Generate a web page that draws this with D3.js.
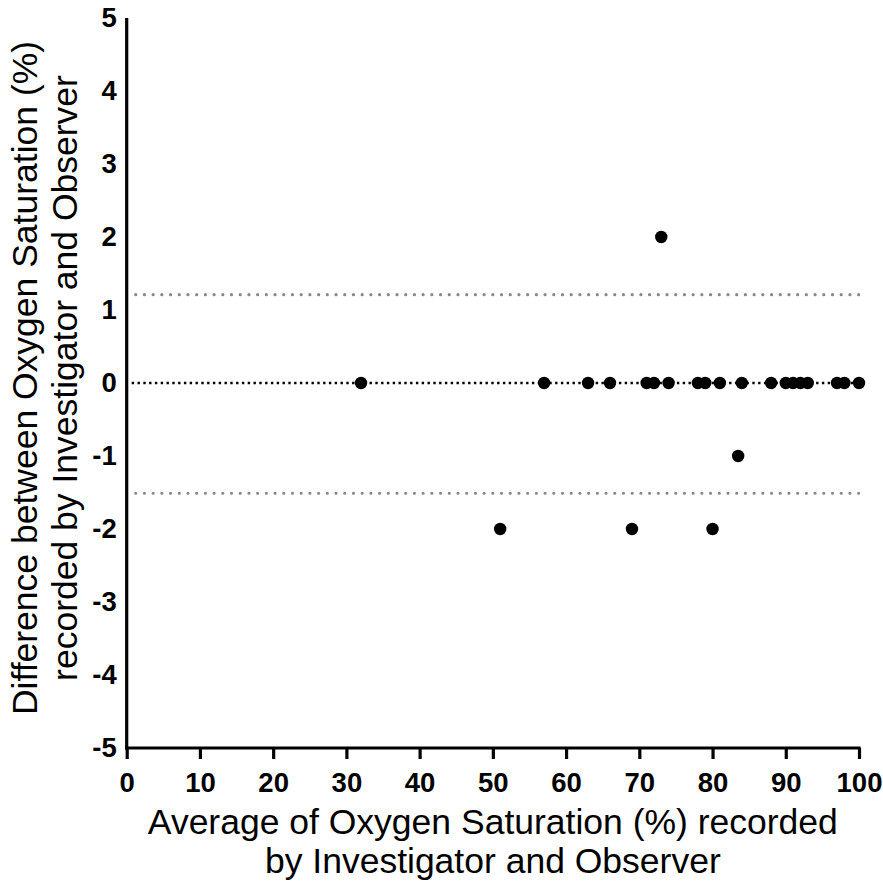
<!DOCTYPE html>
<html>
<head>
<meta charset="utf-8">
<script src="https://cdn.jsdelivr.net/npm/d3@7"></script>
<style>
  body { margin: 0; background: #fff; }
  text { font-family: "Liberation Sans", Arial, sans-serif; }
</style>
</head>
<body>
<script>

// averages (x) and differences (y)
var avgValues = [32, 57, 63, 66, 71, 72, 74, 78, 79, 81, 84, 88, 90, 91, 92, 93, 97, 98, 100,
                 73, 83.5, 51, 69, 80];
var diffValues = [0, 0, 0, 0, 0, 0, 0, 0, 0, 0, 0, 0, 0, 0, 0, 0, 0, 0, 0,
                  2, -1, -2, -2, -2];
var meanDiff = 0;
var limits = [1.21, -1.51];
var xTicks = [0, 10, 20, 30, 40, 50, 60, 70, 80, 90, 100];
var yTicks = [-5, -4, -3, -2, -1, 0, 1, 2, 3, 4, 5];

var width = 883,
    height = 884,
    plotLeft = 126.7,
    plotRight = 859,
    plotTop = 18,
    plotBottom = 748;

var svg = d3.select("body").append("svg")
    .attr("width", width)
    .attr("height", height);

var x = d3.scaleLinear().domain([0, 100]).range([plotLeft, plotRight]);
var y = d3.scaleLinear().domain([-5, 5]).range([plotBottom, plotTop]);

// limits of agreement
svg.selectAll(".limit")
    .data(limits)
    .enter().append("line")
    .attr("class", "limit")
    .attr("x1", x(0) + 9)
    .attr("x2", x(100))
    .attr("y1", function(d) { return y(d); })
    .attr("y2", function(d) { return y(d); })
    .attr("stroke", "#888")
    .attr("stroke-width", 3.2)
    .attr("stroke-linecap", "round")
    .attr("stroke-dasharray", "0.01 8.7");

// mean line
svg.append("line")
    .attr("x1", x(0) + 5)
    .attr("x2", x(100))
    .attr("y1", y(meanDiff))
    .attr("y2", y(meanDiff))
    .attr("stroke", "#000")
    .attr("stroke-width", 2.4)
    .attr("stroke-dasharray", "2.4 3.4");

// points
svg.selectAll(".pt")
    .data(avgValues)
    .enter().append("circle")
    .attr("class", "pt")
    .attr("cx", function(d) { return x(d); })
    .attr("cy", function(d, i) { return y(diffValues[i]); })
    .attr("r", 6.2)
    .attr("fill", "#000");

// axes (plain hyphen for negatives, like the original)
var fmt = function(d) { return String(d); };

var xAxis = svg.append("g")
    .attr("transform", "translate(0," + plotBottom + ")")
    .call(d3.axisBottom(x).tickValues(xTicks).tickFormat(fmt).tickSize(11).tickPadding(13).tickSizeOuter(0));

var yAxis = svg.append("g")
    .attr("transform", "translate(" + plotLeft + ",0)")
    .call(d3.axisLeft(y).tickValues(yTicks).tickFormat(fmt).tickSize(0).tickPadding(10).tickSizeOuter(0));

[xAxis, yAxis].forEach(function(g) {
    g.select(".domain").attr("stroke", "#000").attr("stroke-width", 3.2);
    g.selectAll(".tick line").attr("stroke", "#000").attr("stroke-width", 3.2);
    g.selectAll(".tick text")
        .attr("fill", "#000")
        .style("font-size", "27.5px")
        .style("font-weight", "bold");
});
// extend domain lines to meet at the corner
xAxis.select(".domain").attr("d", "M" + (plotLeft - 1.6) + ",0H" + (plotRight + 1.6));
yAxis.select(".domain").attr("d", "M0," + plotTop + "V" + (plotBottom + 1.6));

// axis titles
var xTitle = ["Average of Oxygen Saturation (%) recorded", "by Investigator and Observer"];
svg.selectAll(".xt")
    .data(xTitle)
    .enter().append("text")
    .attr("x", (plotLeft + plotRight) / 2)
    .attr("y", function(d, i) { return 834 + i * 39; })
    .attr("text-anchor", "middle")
    .style("font-size", "35.5px")
    .text(function(d) { return d; });

var yTitle = ["Difference between Oxygen Saturation (%)", "recorded by Investigator and Observer"];
svg.selectAll(".yt")
    .data(yTitle)
    .enter().append("text")
    .attr("transform", function(d, i) {
        return "translate(" + (37 + i * 40) + ",378) rotate(-90)";
    })
    .attr("text-anchor", "middle")
    .style("font-size", "35.5px")
    .text(function(d) { return d; });

</script>
</body>
</html>
